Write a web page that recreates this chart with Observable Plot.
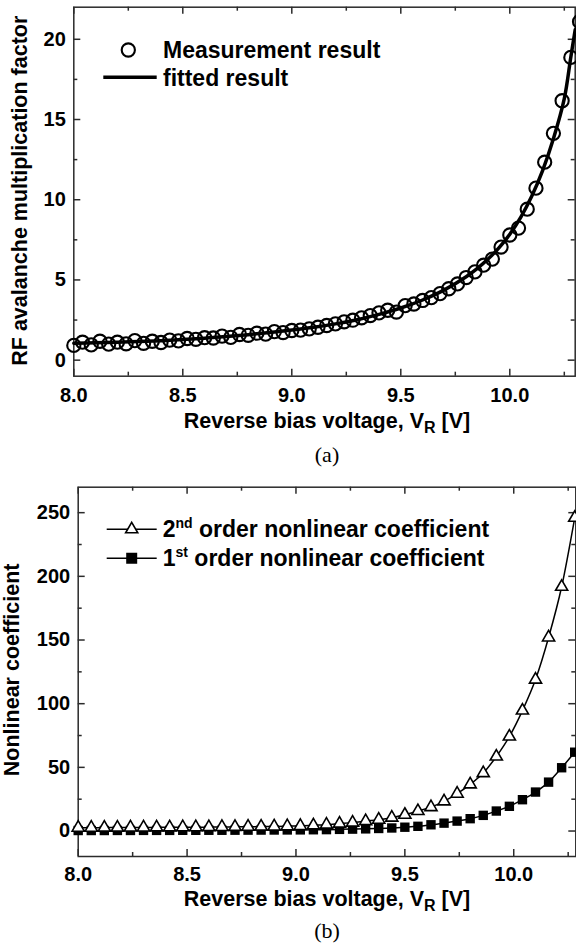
<!DOCTYPE html>
<html>
<head>
<meta charset="utf-8">
<script src="https://cdn.jsdelivr.net/npm/d3@7"></script>
<script src="https://cdn.jsdelivr.net/npm/@observablehq/plot@0.6"></script>
<style>
  body { margin: 0; background: #fff; }
  #wrap { position: relative; width: 576px; height: 948px; overflow: hidden; background: #fff;
          font-family: "Liberation Sans", Arial, sans-serif; }
  .panel { position: absolute; left: 0; }
  .xtitle { position: absolute; left: 327px; transform: translateX(-50%); white-space: nowrap;
            font-weight: bold; font-size: 21.5px; line-height: 1; color: #000; }
  .xtitle .sub { font-size: 16px; position: relative; top: 5px; line-height: 0; }
  .cap { position: absolute; left: 327px; transform: translateX(-50%); white-space: nowrap;
         font-family: "Liberation Serif", "Times New Roman", serif; font-size: 22px; line-height: 1; color: #000; }
</style>
</head>
<body>
<div id="wrap">
  <div class="panel" id="panelA" style="top:0px"></div>
  <div class="xtitle" style="top:410.5px">Reverse bias voltage, V<span class="sub">R</span> [V]</div>
  <div class="cap" style="top:444px">(a)</div>
  <div class="panel" id="panelB" style="top:470px"></div>
  <div class="xtitle" style="top:889px">Reverse bias voltage, V<span class="sub">R</span> [V]</div>
  <div class="cap" style="top:920px">(b)</div>
</div>
<script>
// ---- Axis ticks ----
const voltageTicks = [8.0, 8.5, 9.0, 9.5, 10.0];
const voltageMinor = [8.25, 8.75, 9.25, 9.75, 10.25];
const gainTicks = [0, 5, 10, 15, 20];
const gainMinor = [2.5, 7.5, 12.5, 17.5];
const coefTicks = [0, 50, 100, 150, 200, 250];
const coefMinor = [25, 75, 125, 175, 225];

// ---- (a) RF avalanche multiplication factor ----
const measV = [
  8.00, 8.04, 8.08, 8.12, 8.16, 8.20, 8.24, 8.28, 8.32, 8.36, 8.40, 8.44, 8.48,
  8.52, 8.56, 8.60, 8.64, 8.68, 8.72, 8.76, 8.80, 8.84, 8.88, 8.92, 8.96,
  9.00, 9.04, 9.08, 9.12, 9.16, 9.20, 9.24, 9.28, 9.32, 9.36, 9.40, 9.44, 9.48,
  9.52, 9.56, 9.60, 9.64, 9.68, 9.72, 9.76, 9.80, 9.84, 9.88, 9.92, 9.96,
  10.00, 10.04, 10.08, 10.12, 10.16, 10.20, 10.24, 10.28, 10.32
];
const measM = [
  0.92, 1.12, 0.95, 1.18, 1.00, 1.12, 1.02, 1.22, 1.05, 1.18, 1.10, 1.25, 1.20,
  1.35, 1.30, 1.40, 1.38, 1.50, 1.42, 1.60, 1.55, 1.68, 1.62, 1.78, 1.72,
  1.85, 1.87, 1.95, 2.05, 2.16, 2.26, 2.39, 2.49, 2.64, 2.78, 2.95, 3.11, 3.00,
  3.40, 3.50, 3.72, 3.90, 4.15, 4.45, 4.75, 5.15, 5.50, 5.92, 6.30, 7.05,
  7.80, 8.23, 9.41, 10.72, 12.34, 14.14, 16.17, 18.87, 21.10
];
const fitV = [8.0, 8.1, 8.2, 8.3, 8.4, 8.5, 8.6, 8.7, 8.8, 8.9, 9.0, 9.1, 9.2, 9.3, 9.4,
  9.5, 9.6, 9.7, 9.8, 9.85, 9.9, 9.95, 10.0, 10.05, 10.1, 10.15, 10.2, 10.25, 10.28, 10.3];
const fitM = [1.05, 1.08, 1.12, 1.16, 1.21, 1.28, 1.37, 1.47, 1.59, 1.73, 1.88, 2.05, 2.26, 2.52, 2.85,
  3.25, 3.75, 4.38, 5.20, 5.70, 6.30, 7.00, 7.85, 8.90, 10.20, 11.80, 13.80, 16.30, 18.90, 20.60];

// ---- (b) Nonlinear coefficients ----
const coefV = [
  8.00, 8.06, 8.12, 8.18, 8.24, 8.30, 8.36, 8.42, 8.48, 8.54, 8.60, 8.66, 8.72,
  8.78, 8.84, 8.90, 8.96, 9.02, 9.08, 9.14, 9.20, 9.26, 9.32, 9.38, 9.44, 9.50,
  9.56, 9.62, 9.68, 9.74, 9.80, 9.86, 9.92, 9.98, 10.04, 10.10, 10.16, 10.22, 10.28
];
const coef2nd = [
  2.6, 2.6, 2.7, 2.7, 2.8, 2.8, 2.9, 2.9, 3.0, 3.0, 3.1, 3.2, 3.3,
  3.4, 3.5, 3.6, 3.8, 4.0, 4.5, 5.0, 5.8, 6.6, 7.8, 8.9, 10.5, 12.8,
  15.7, 18.8, 23.3, 29.3, 36.6, 45.5, 58.5, 74.2, 94.6, 118.9, 152.0, 191.8, 246.0
];
const coef1st = [
  0.40, 0.40, 0.40, 0.45, 0.45, 0.50, 0.50, 0.50, 0.55, 0.55, 0.60, 0.60, 0.65,
  0.70, 0.75, 0.80, 0.85, 0.90, 1.0, 1.1, 1.3, 1.5, 1.7, 2.0, 2.4, 3.0,
  3.7, 4.9, 6.2, 7.8, 9.7, 12.3, 15.7, 19.4, 24.6, 30.6, 38.4, 49.7, 61.9
];

const measurement = measV.map((v, i) => ({v, m: measM[i]}));
const fitted = fitV.map((v, i) => ({v, m: fitM[i]}));
const second = coefV.map((v, i) => ({v, c: coef2nd[i]}));
const first = coefV.map((v, i) => ({v, c: coef1st[i]}));

const frameColor = "#2b2b2b";
const fmt1 = d3.format(".1f");

// Ticks drawn inward on all four sides of the frame
function inwardTicks(innerW, innerH, xMaj, xMin, yMaj, yMin) {
  const s = {stroke: frameColor, strokeWidth: 1.5};
  const major = 7, minor = 4;
  return [
    Plot.tickX(xMaj, {x: d => d, insetTop: innerH - major, ...s}),
    Plot.tickX(xMaj, {x: d => d, insetBottom: innerH - major, ...s}),
    Plot.tickX(xMin, {x: d => d, insetTop: innerH - minor, ...s}),
    Plot.tickX(xMin, {x: d => d, insetBottom: innerH - minor, ...s}),
    Plot.tickY(yMaj, {y: d => d, insetRight: innerW - major, ...s}),
    Plot.tickY(yMaj, {y: d => d, insetLeft: innerW - major, ...s}),
    Plot.tickY(yMin, {y: d => d, insetRight: innerW - minor, ...s}),
    Plot.tickY(yMin, {y: d => d, insetLeft: innerW - minor, ...s})
  ];
}

const baseStyle = {
  fontFamily: "'Liberation Sans', Arial, sans-serif",
  fontSize: "20px",
  fontWeight: "bold",
  color: "#000",
  background: "#fff",
  overflow: "visible"
};

// ---- Panel (a) ----
const mA = {left: 73.3, right: 1.3, top: 6.7, bottom: 29.3};
const wA = 576, hA = 405;
const chartA = Plot.plot({
  width: wA, height: hA,
  marginLeft: mA.left, marginRight: mA.right, marginTop: mA.top, marginBottom: mA.bottom,
  style: baseStyle,
  x: {domain: [8, 10.3]},
  y: {domain: [-1, 22]},
  marks: [
    Plot.axisX(voltageTicks, {tickSize: 0, tickPadding: 11.5, tickFormat: fmt1, label: null}),
    Plot.axisY(gainTicks, {tickSize: 0, tickPadding: 8, label: null}),
    ...inwardTicks(wA - mA.left - mA.right, hA - mA.top - mA.bottom, voltageTicks, voltageMinor, gainTicks, gainMinor),
    Plot.frame({stroke: frameColor, strokeWidth: 1.5}),
    Plot.line(fitted, {x: "v", y: "m", stroke: "#000", strokeWidth: 3.5, curve: "catmull-rom"}),
    Plot.dot(measurement, {x: "v", y: "m", r: 6.6, stroke: "#000", strokeWidth: 2.1, fill: "none"}),
    Plot.text(["RF avalanche multiplication factor"], {frameAnchor: "left", textAnchor: "middle", rotate: -90, dx: -54, dy: -1,
      fontSize: 21.5, fontWeight: "bold", fill: "#000"})
  ]
});
document.getElementById("panelA").appendChild(chartA);

// legend for (a)
{
  const g = d3.select(chartA).append("g")
    .attr("font-size", 23).attr("font-weight", "bold").attr("text-anchor", "start");
  g.append("circle").attr("cx", 128.3).attr("cy", 50).attr("r", 6.6)
    .attr("fill", "none").attr("stroke", "#000").attr("stroke-width", 2.1);
  g.append("line").attr("x1", 103.3).attr("x2", 156.7).attr("y1", 77.3).attr("y2", 77.3)
    .attr("stroke", "#000").attr("stroke-width", 3.5);
  g.append("text").attr("x", 163).attr("y", 57.5).text("Measurement result");
  g.append("text").attr("x", 163).attr("y", 85.5).text("fitted result");
}

// ---- Panel (b) ----
const mB = {left: 77.7, right: 0.7, top: 16.7, bottom: 29};
const wB = 576, hB = 415;
const chartB = Plot.plot({
  width: wB, height: hB,
  marginLeft: mB.left, marginRight: mB.right, marginTop: mB.top, marginBottom: mB.bottom,
  style: baseStyle,
  x: {domain: [8, 10.285]},
  y: {domain: [-20, 270]},
  marks: [
    Plot.axisX(voltageTicks, {tickSize: 0, tickPadding: 10.5, tickFormat: fmt1, label: null}),
    Plot.axisY(coefTicks, {tickSize: 0, tickPadding: 8, label: null}),
    ...inwardTicks(wB - mB.left - mB.right, hB - mB.top - mB.bottom, voltageTicks, voltageMinor, coefTicks, coefMinor),
    Plot.frame({stroke: frameColor, strokeWidth: 1.5}),
    Plot.line(first, {x: "v", y: "c", stroke: "#000", strokeWidth: 1.5, curve: "monotone-x"}),
    Plot.line(second, {x: "v", y: "c", stroke: "#000", strokeWidth: 1.5, curve: "monotone-x"}),
    Plot.dot(first, {x: "v", y: "c", symbol: "square", r: 5.3, fill: "#000", stroke: "none"}),
    Plot.dot(second, {x: "v", y: "c", symbol: "triangle", r: 4.5, fill: "#fff", stroke: "#000", strokeWidth: 1.6}),
    Plot.text(["Nonlinear coefficient"], {frameAnchor: "left", textAnchor: "middle", rotate: -90, dx: -66, dy: -2,
      fontSize: 21.5, fontWeight: "bold", fill: "#000"})
  ]
});
document.getElementById("panelB").appendChild(chartB);

// legend for (b)
{
  const g = d3.select(chartB).append("g")
    .attr("font-size", 23).attr("font-weight", "bold").attr("text-anchor", "start");
  const rows = [
    {y: 59.3, sym: d3.symbolTriangle, fill: "#fff", lead: "2", sup: "nd"},
    {y: 88.3, sym: d3.symbolSquare, fill: "#000", lead: "1", sup: "st"}
  ];
  for (const r of rows) {
    g.append("line").attr("x1", 106.7).attr("x2", 156.7).attr("y1", r.y).attr("y2", r.y)
      .attr("stroke", "#000").attr("stroke-width", 1.5);
    const size = r.sym === d3.symbolSquare ? Math.PI * 5.3 * 5.3 : Math.PI * 4.5 * 4.5;
    g.append("path").attr("d", d3.symbol(r.sym, size)())
      .attr("transform", `translate(131.7,${r.y})`)
      .attr("fill", r.fill).attr("stroke", "#000").attr("stroke-width", 1.6);
    const t = g.append("text").attr("x", 162.7).attr("y", r.y + 8);
    t.append("tspan").text(r.lead);
    t.append("tspan").attr("font-size", 14).attr("dy", -9).text(r.sup);
    t.append("tspan").attr("dy", 9).text(" order nonlinear coefficient");
  }
}
</script>
</body>
</html>
